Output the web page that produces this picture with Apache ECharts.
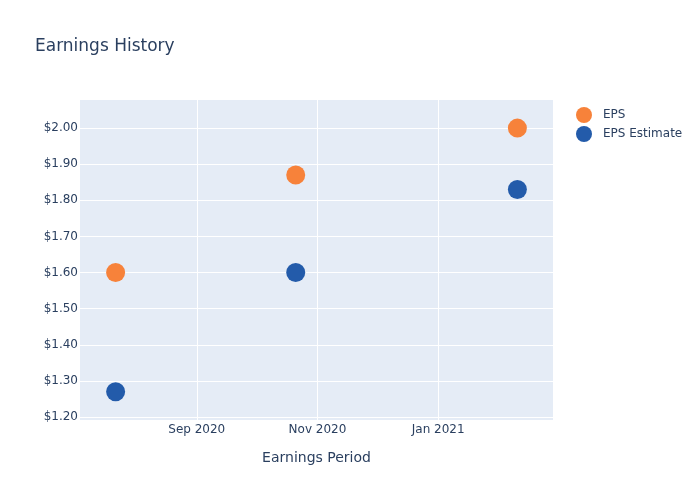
<!DOCTYPE html>
<html><head><meta charset="utf-8">
<script src="https://cdn.jsdelivr.net/npm/echarts@6/dist/echarts.min.js"></script>
<style>html,body{margin:0;padding:0;background:#fff}#c{width:700px;height:500px}</style>
</head><body><div id="c"></div>
<script>
const periods = ['2020-07-22', '2020-10-21', '2021-02-10'];
const epsValues = [1.60, 1.87, 2.00];
const estimateValues = [1.27, 1.60, 1.83];
const xTicks = ['2020-09-01', '2020-11-01', '2021-01-01'];
const yTicks = [1.2, 1.3, 1.4, 1.5, 1.6, 1.7, 1.8, 1.9, 2.0];
const months = ['Jan','Feb','Mar','Apr','May','Jun','Jul','Aug','Sep','Oct','Nov','Dec'];
const ts = s => Date.parse(s + 'T00:00:00Z');
const txtColor = '#2a3f5f';
const font = 'DejaVu Sans, sans-serif';
const chart = echarts.init(document.getElementById('c'));
chart.setOption({
  animation: false,
  backgroundColor: '#fff',
  title: { text: 'Earnings History', left: 30, top: 33, textStyle: { fontFamily: font, fontSize: 17, fontWeight: 'normal', color: txtColor } },
  legend: {
    orient: 'vertical', left: 571, top: 102, itemWidth: 16, itemHeight: 16, itemGap: 3, icon: 'circle',
    textStyle: { fontFamily: font, fontSize: 12, color: txtColor, padding: [0,0,0,6] },
    data: ['EPS', 'EPS Estimate']
  },
  grid: { left: 80, right: 147, top: 100, bottom: 80, show: true, backgroundColor: '#E5ECF6', borderWidth: 0, containLabel: false },
  xAxis: {
    type: 'value', min: ts('2020-07-04'), max: ts('2021-02-28'),
    name: 'Earnings Period', nameLocation: 'middle', nameGap: 31,
    nameTextStyle: { fontFamily: font, fontSize: 14, color: txtColor },
    axisLine: { show: false }, axisTick: { show: false, customValues: xTicks.map(ts) },
    axisLabel: { customValues: xTicks.map(ts), margin: 4, fontFamily: font, fontSize: 12, color: txtColor,
      formatter: v => { const d = new Date(v); return months[d.getUTCMonth()] + ' ' + d.getUTCFullYear(); } },
    splitLine: { show: true, lineStyle: { color: '#fff', width: 1 } }
  },
  yAxis: {
    type: 'value', min: 1.1917, max: 2.0778,
    axisLine: { show: false }, axisTick: { show: false, customValues: yTicks },
    axisLabel: { customValues: yTicks, margin: 2, fontFamily: font, fontSize: 12, color: txtColor, formatter: v => '$' + v.toFixed(2) },
    splitLine: { show: true, lineStyle: { color: '#fff', width: 1 } }
  },
  series: [
    { name: 'EPS', type: 'scatter', symbolSize: 19, itemStyle: { color: '#F7823A', opacity: 1 }, z: 3,
      data: periods.map((p, i) => [ts(p), epsValues[i]]) },
    { name: 'EPS Estimate', type: 'scatter', symbolSize: 19, itemStyle: { color: '#235BAA', opacity: 1 }, z: 3,
      data: periods.map((p, i) => [ts(p), estimateValues[i]]) }
  ]
});
</script></body></html>
